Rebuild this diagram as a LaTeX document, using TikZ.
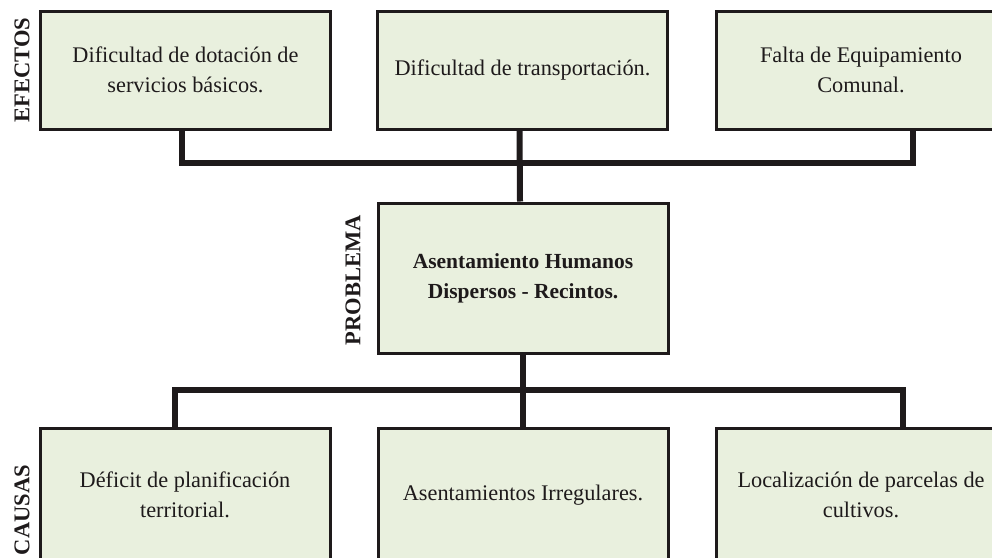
\documentclass[tikz,border=0pt]{standalone}
\usepackage{fontspec}
\setmainfont{Liberation Serif}
\definecolor{boxfill}{RGB}{233,240,222}
\definecolor{ink}{RGB}{30,26,27}
\begin{document}
\begin{tikzpicture}[x=1pt,y=-1pt,
  box/.style={draw=ink,line width=3pt,fill=boxfill,minimum width=290pt,align=center,
    font=\fontsize{22.3}{30}\selectfont,text=ink,inner sep=0pt},
  topbox/.style={box,minimum height=118pt},
  botbox/.style={box,minimum height=134pt},
  conn/.style={draw=ink,line width=6pt},
  side/.style={rotate=90,font=\bfseries\fontsize{22.5}{24}\selectfont,text=ink}]
\useasboundingbox (0,0) rectangle (992,557);
\node[topbox] (b1) at (185.5,70) {Dificultad de dotación de\\servicios básicos.};
\node[topbox] (b2) at (522.5,70) {Dificultad de transportación.};
\node[topbox] (b3) at (861,70) {Falta de Equipamiento\\Comunal.};
\node[box,minimum height=150pt,font=\bfseries\fontsize{21.5}{30}\selectfont] (pr) at (523,278) {Asentamiento Humanos\\Dispersos - Recintos.};
\node[botbox] (c1) at (185,495) {Déficit de planificación\\territorial.};
\node[botbox] (c2) at (523,495) {Asentamientos Irregulares.};
\node[botbox] (c3) at (861,495) {Localización de parcelas de\\cultivos.};
\node[side] (lefe) at (22,70) {EFECTOS};
\node[side] (lpro) at (353,280) {PROBLEMA};
\node[side] (lcau) at (22,510) {CAUSAS};
\coordinate (bus1) at (0,163);
\coordinate (bus2) at (0,390);
\draw[conn] ([xshift=-3.5pt]b1.south) -- ([xshift=-3.5pt]b1.south |- bus1) -- ([xshift=52pt]b3.south |- bus1) -- ([xshift=52pt]b3.south);
\draw[conn] ([xshift=-3pt]b2.south) -- ([xshift=-3pt]pr.north);
\draw[conn] (pr.south) -- (c2.north);
\draw[conn] ([xshift=-10pt]c1.north) -- ([xshift=-10pt]c1.north |- bus2) -- ([xshift=42pt]c3.north |- bus2) -- ([xshift=42pt]c3.north);
\end{tikzpicture}
\end{document}
